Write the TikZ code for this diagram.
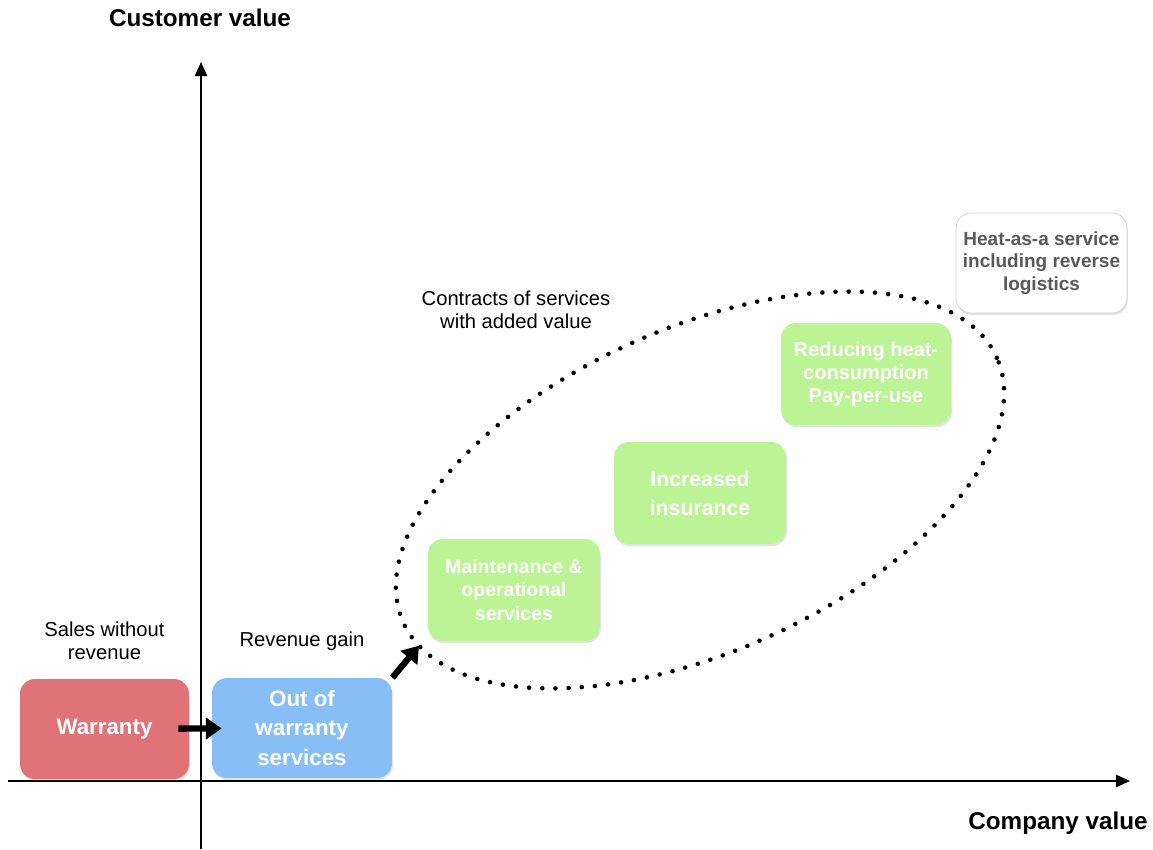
\documentclass[tikz,border=0pt]{standalone}
\usepackage{fontspec}
\setmainfont{Liberation Sans}
\usetikzlibrary{positioning,shapes.geometric,shadows,arrows.meta}

\definecolor{warnred}{HTML}{E07377}
\definecolor{outblue}{HTML}{88BEF6}
\definecolor{servgreen}{HTML}{BBF395}
\definecolor{heatgray}{HTML}{595959}

\begin{document}
\begin{tikzpicture}[x=0.02cm, y=0.02cm,
    box/.style={rectangle, rounded corners=0.3cm, minimum height=2cm, align=center, text=white, inner sep=2pt,
        drop shadow={shadow xshift=0.5pt, shadow yshift=-1.2pt, opacity=0.22}},
    service/.style={box, fill=servgreen, minimum width=3.44cm, minimum height=2.04cm},
    axis/.style={line width=1.1pt, -{Triangle[length=8pt,width=7pt]}},
    push/.style={line width=3.6pt, -{Triangle[length=9pt,width=12pt]}},
    dots/.style={line width=2.6pt, line cap=round, dash pattern=on 0pt off 7.5pt},
    note/.style={font=\fontsize{11.5}{13}\selectfont, align=center},
    title/.style={font=\fontsize{13.8}{16}\selectfont\bfseries}]
    \useasboundingbox (0,0) rectangle (1153,849);

    % Axes
    \coordinate (ybot) at (201,0);
    \coordinate (ytop) at (201,787);
    \coordinate (xleft) at (8,68);
    \coordinate (xright) at (1130,68);
    \draw [axis] (ybot) -- (ytop);
    \draw [axis] (xleft) -- (xright);
    \node [title] (custvalue) at (200,831) {Customer value};
    \node [title] (compvalue) at (1058,26) {Company value};

    % Nodes
    \node [ellipse, draw, dots, minimum width=13cm, minimum height=6.48cm, inner sep=0pt, outer sep=0pt, rotate=24] (contracts) at (700,359) {};
    \node [box, fill=warnred, minimum width=3.38cm, font=\fontsize{12.7}{17}\selectfont\bfseries] (warranty) at (104.5,120) {Warranty};
    \node [box, fill=outblue, minimum width=3.6cm, font=\fontsize{12.7}{17}\selectfont\bfseries] (outwar) at (302,121) {Out of\\warranty\\services};
    \node [service, font=\fontsize{11.1}{13.6}\selectfont\bfseries] (maint) at (514,259) {Maintenance \&\\operational\\services};
    \node [service, font=\fontsize{12.1}{16.4}\selectfont\bfseries] (insur) at (700,356) {Increased\\insurance};
    \node [service, minimum width=3.4cm, font=\fontsize{11.4}{13}\selectfont\bfseries] (reduce) at (866,475) {Reducing heat-\\consumption\\Pay-per-use};
    \node [box, fill=white, draw=gray!35, line width=0.4pt, text=heatgray, minimum width=3.42cm, font=\fontsize{10.8}{12.8}\selectfont\bfseries] (heat) at (1041.5,586) {Heat-as-a service\\including reverse\\logistics};

    \node [note, above=0.25cm of warranty] (sales) {Sales without\\revenue};
    \node [note, above=0.42cm of outwar] (gain) {Revenue gain};
    \node [note] (contlabel) at (516,539) {Contracts of services\\with added value};

    % Path
    \draw [push, shorten <=-0.22cm, shorten >=-0.2cm] (warranty) -- (outwar);
    \draw [push] (outwar.north east) -- (contracts.185);
\end{tikzpicture}
\end{document}
